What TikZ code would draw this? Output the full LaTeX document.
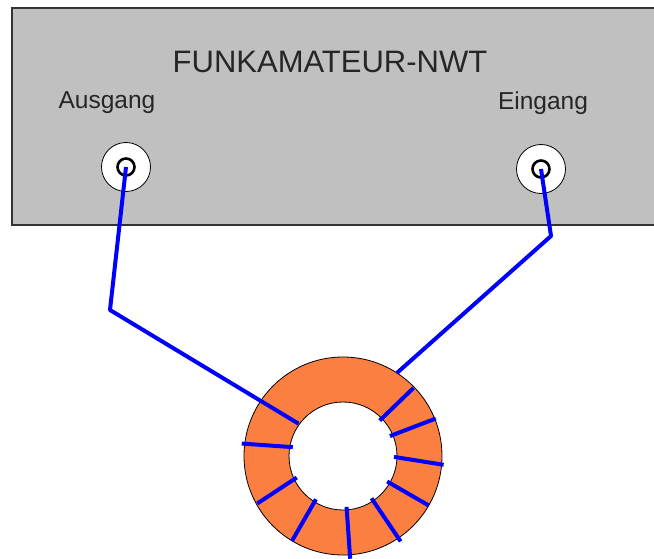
\documentclass[tikz,border=0pt]{standalone}
\usepackage{fontspec}
\setmainfont{Liberation Sans}
\usetikzlibrary{calc}
\definecolor{panel}{HTML}{C0C0C0}
\definecolor{ferrite}{HTML}{FA7F40}
\definecolor{wire}{HTML}{0000FF}
\tikzset{
  frontpanel/.style={draw=black!80, line width=1.2pt, fill=panel},
  socket/.style={circle, draw=black, line width=0.8pt, fill=white,
                 minimum size=49pt, inner sep=0pt},
  pin/.style={circle, draw=black, line width=2.6pt, minimum size=17pt, inner sep=0pt},
  lbl/.style={font=\fontsize{24.5}{28}\selectfont, text=black!85},
  title/.style={font=\fontsize{31}{35}\selectfont, text=black!85},
  lead/.style={draw=wire, line width=4pt, line join=round},
  turn/.style={draw=wire, line width=4pt}
}
\begin{document}
\begin{tikzpicture}[x=1pt, y=-1pt]
  \useasboundingbox (0,0) rectangle (654,559);

  % front panel of the analyser
  \path[frontpanel] (12,8) rectangle (670,225);
  \node[title] (name) at (330,62) {FUNKAMATEUR-NWT};
  \node[lbl] (outlbl) at (107,103) {Ausgang};
  \node[lbl] (inlbl) at (543,103) {Eingang};

  % BNC sockets
  \node[socket] (out) at (126,167) {};
  \node[pin] (outpin) at (out.center) {};
  \node[socket] (in) at (541,169) {};
  \node[pin] (inpin) at (in.center) {};

  % ring core
  \coordinate (ring) at (343,456);
  \fill[ferrite, even odd rule] (ring) circle[radius=99] (ring) circle[radius=54];
  \draw[black, line width=0.8pt] (ring) circle[radius=99] (ring) circle[radius=54];

  \begin{scope}[shift={(ring)}, y=1pt]
    \coordinate (lead1) at (144:55);
    \coordinate (lead2) at (57:99);
    % windings
    \foreach \a/\b/\r in {44/44/98, 23/22/100, -1/-5/101, -30/-30/99,
                          -56/-56/103, -86/-86/103, -122/-121/99,
                          -155/-151/98, 170/173/102}
      \draw[turn] (\a:51) -- (\b:\r);
  \end{scope}

  % measuring leads
  \coordinate (bend1) at (110,310);
  \coordinate (bend2) at (551,236);
  \draw[lead] (out.center) -- (bend1) -- (lead1);
  \draw[lead] (in.center) -- (bend2) -- (lead2);
\end{tikzpicture}
\end{document}
